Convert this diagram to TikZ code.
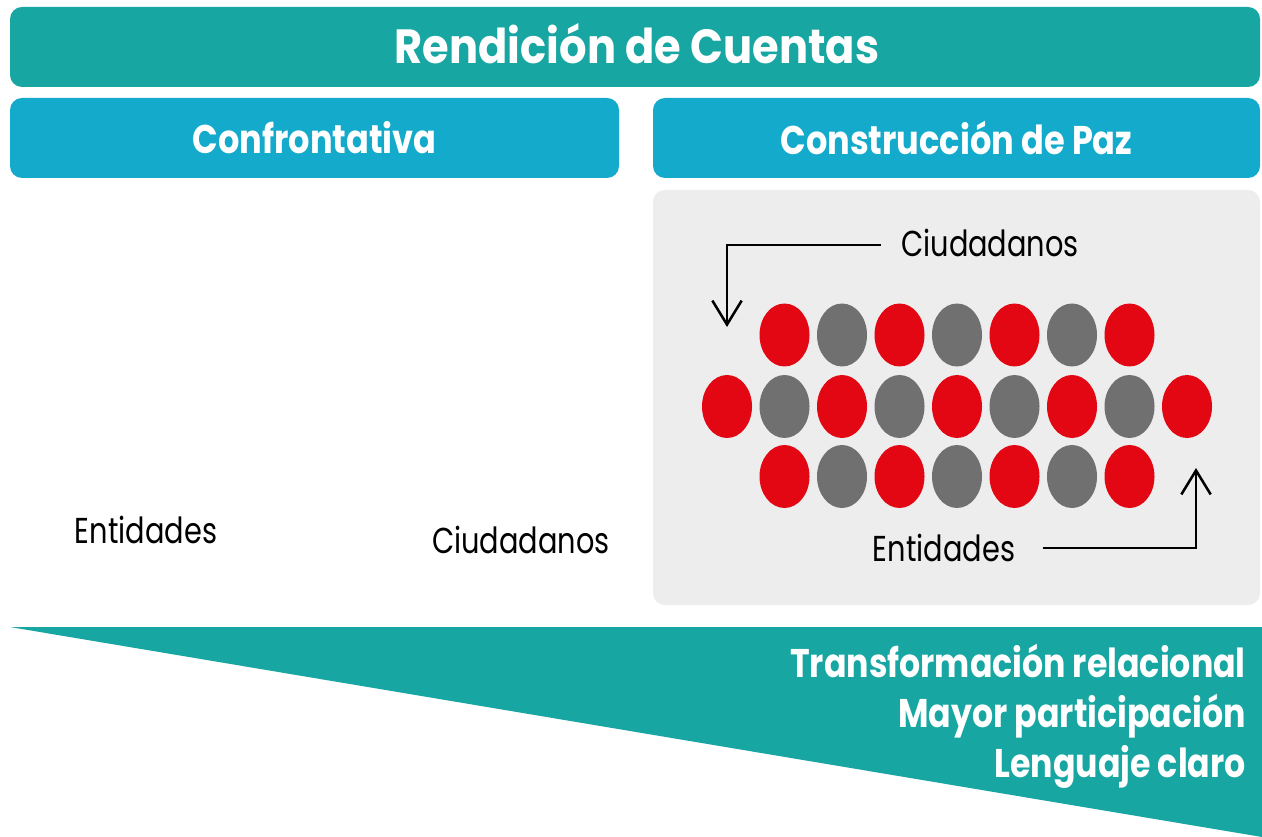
\documentclass[tikz,border=0pt]{standalone}
\usepackage{fontspec}
\setmainfont{Poppins}[FakeStretch=0.8]
\newfontfamily\poptitle{Poppins}[FakeStretch=0.9]
\newfontfamily\popsub{Poppins}[FakeStretch=0.84]
\newfontfamily\popres{Poppins}[FakeStretch=0.83]
\usetikzlibrary{arrows.meta}
\definecolor{tealbar}{HTML}{17A6A2}
\definecolor{bluebar}{HTML}{13AACB}
\definecolor{panelgray}{HTML}{EDEDED}
\definecolor{dotred}{HTML}{E30613}
\definecolor{dotgray}{HTML}{707070}
\tikzset{
  bar/.style={rectangle, rounded corners=9pt, inner sep=0pt, text=white, font=\popsub\bfseries\fontsize{30}{36}\selectfont},
  lbl/.style={inner sep=0pt, text=black, font=\fontsize{27}{32}\selectfont},
  flow/.style={line width=1.9pt, -{Straight Barb[length=18pt,width=22pt,line width=1.9pt]}},
  rdot/.style={fill=dotred},
  gdot/.style={fill=dotgray}
}
\begin{document}
\begin{tikzpicture}[x=0.75pt,y=-0.75pt]
\useasboundingbox (0,0) rectangle (1262,837);
\fill[white] (0,0) rectangle (1262,837);
% header bars
\node[bar, fill=tealbar, minimum width=937.5pt, minimum height=60pt] (title) at (635,47) {};
\node[inner sep=0pt, text=white, font=\poptitle\bfseries\fontsize{36}{42}\selectfont] (titletext) at (637,44) {Rendición de Cuentas};
\node[bar, fill=bluebar, minimum width=456.75pt, minimum height=60pt] (conf) at (314.5,138) {Confrontativa};
\node[bar, fill=bluebar, minimum width=455.25pt, minimum height=60pt] (paz) at (956.5,138) {Construcción de Paz};
% panel
\node[rectangle, rounded corners=9pt, fill=panelgray, minimum width=455.25pt, minimum height=311.25pt, inner sep=0pt] (panel) at (956.5,397.5) {};
% left labels
\node[lbl] (entL) at (146,530) {Entidades};
\node[lbl] (ciuL) at (521,540) {Ciudadanos};
% dots
\foreach \i in {0,...,6} {
  \pgfmathsetmacro{\xx}{784.5+57.5*\i}
  \pgfmathtruncatemacro{\odd}{mod(\i,2)}
  \ifnum\odd=0
    \fill[rdot] (\xx,335) ellipse [x radius=25, y radius=31.5];
    \fill[rdot] (\xx,476.5) ellipse [x radius=25, y radius=31.5];
  \else
    \fill[gdot] (\xx,335) ellipse [x radius=25, y radius=31.5];
    \fill[gdot] (\xx,476.5) ellipse [x radius=25, y radius=31.5];
  \fi
}
\foreach \i in {0,...,8} {
  \pgfmathsetmacro{\xx}{727+57.5*\i}
  \pgfmathtruncatemacro{\odd}{mod(\i,2)}
  \ifnum\odd=0
    \fill[rdot] (\xx,406.5) ellipse [x radius=25, y radius=31.5];
  \else
    \fill[gdot] (\xx,406.5) ellipse [x radius=25, y radius=31.5];
  \fi
}
% panel labels and arrows
\node[lbl] (ciuR) at (990,243) {Ciudadanos};
\node[lbl] (entR) at (944,548) {Entidades};
\coordinate (t1) at (727,245);
\coordinate (t2) at (727,327);
\coordinate (b1) at (1196,548);
\coordinate (b2) at (1196,468);
\draw[flow] ([xshift=-15pt]ciuR.west |- t1) -- (t1) -- (t2);
\draw[flow] ([xshift=21pt]entR.east |- b1) -- (b1) -- (b2);
% bottom triangle
\fill[tealbar] (10,627) -- (1262,627) -- (1262,837) -- cycle;
\node[anchor=east, inner sep=0pt, text=white, align=right, font=\popres\bfseries\fontsize{30}{37.5}\selectfont] (res) at (1246,716) {Transformación relacional\\Mayor participación\\Lenguaje claro};
\end{tikzpicture}
\end{document}
